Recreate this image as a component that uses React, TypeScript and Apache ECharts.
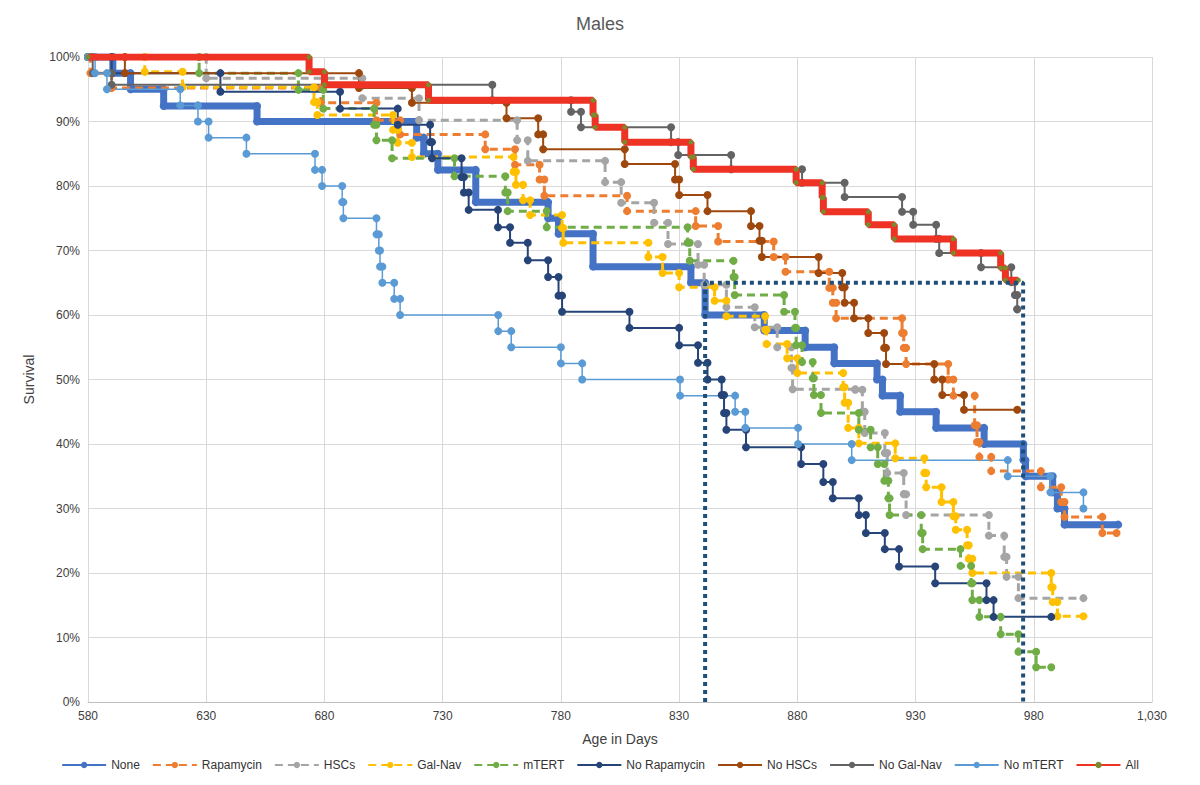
import { useEffect, useRef } from 'react';
import * as echarts from 'echarts';

// Kaplan-Meier steps: [day, survival %] — first is the start, then each drop, last is the end of follow-up
const none = [[580, 100], [590.5, 97.5], [598, 95], [612, 92.4], [651.5, 90], [719, 87.5], [722, 85], [728, 82.5], [744, 77.5], [774.6, 75], [779, 72.6], [793.6, 67.5], [835, 65], [841, 60], [866, 57.6], [883.3, 55], [895.6, 52.5], [913.7, 50], [916, 47.5], [923.5, 45], [938.7, 42.5], [959, 40], [975.6, 37.5], [976.5, 35], [988, 32.5], [990, 30], [993, 27.5], [1015.7, 27.5]];
const rapamycin = [[580, 100], [581, 97.5], [590, 95.2], [678.5, 92.9], [702, 90.2], [712, 88], [748, 85.7], [760.6, 83.3], [771, 81], [773, 78.5], [808, 76.1], [837, 73.8], [846.5, 71.4], [870, 69], [875, 66.7], [893.5, 64.2], [895, 61.9], [896.4, 59.5], [924.3, 57.2], [925, 54.9], [926, 52.4], [943.8, 50], [946, 47.5], [955, 42.9], [956, 40.3], [957, 38], [962, 35.8], [983, 33.3], [991.6, 31], [993, 28.7], [1009, 26.2], [1015, 26.2]];
const hscs = [[580, 100], [630, 96.7], [696, 93.6], [720, 90.2], [761.5, 87.1], [766, 83.9], [798.7, 80.6], [805.5, 77.4], [819.4, 74.3], [825.3, 71], [838, 67.8], [840.6, 64.7], [850, 61.2], [862, 58.1], [871.5, 55], [877.5, 51.8], [878, 48.5], [904.5, 48.4], [907.5, 45], [908.5, 41.7], [917, 38.6], [918, 35.5], [925, 32.2], [926, 29], [961, 25.8], [967.5, 22.5], [968.5, 19.4], [973.5, 16.1], [1001, 16.1]];
const galNav = [[580, 100], [604, 97.7], [620, 95.3], [675.6, 93], [677, 91], [709, 88.7], [711, 86.7], [717, 84.5], [760, 82.2], [761, 80.2], [764, 77.8], [767, 75.5], [780.5, 73.5], [781, 71.2], [817, 69], [823, 66.5], [830, 64.3], [845, 62.2], [850, 59.8], [866.4, 57.7], [867, 55.5], [875.7, 53.3], [880, 51], [899.4, 48.8], [900, 46.4], [901.5, 42.5], [906, 40.1], [921.4, 37.8], [933.7, 35.5], [934.5, 33.3], [941, 31], [946, 28.8], [947, 26.7], [951.8, 24.3], [952.5, 22.2], [954, 20], [987.4, 17.8], [988, 15.5], [990, 13.3], [1001, 13.3]];
const mtert = [[580, 100], [627, 97.5], [669, 94.9], [679.5, 92], [701, 89.5], [702, 87.1], [708.6, 84.3], [735, 81.5], [756.5, 79], [757.5, 76.1], [774, 73.6], [833.6, 71.2], [834.5, 68.4], [853, 65.9], [853.5, 63.1], [874.4, 60.5], [879, 58], [879.5, 55.3], [882, 52.7], [886.5, 50.2], [887, 47.6], [890, 44.8], [906, 42.2], [911, 39.5], [914, 36.9], [916.8, 34.3], [918.5, 31.6], [919, 29], [932.4, 26.2], [933, 23.7], [949, 21.1], [953.5, 18.4], [954, 15.8], [957, 13.2], [966, 10.5], [973.5, 7.8], [981, 5.4], [987.4, 5.4]];
const noRapamycin = [[580, 100], [590, 97.5], [636, 94.6], [686.6, 92], [711, 89.5], [724.7, 86.8], [725.5, 84.3], [738, 81.4], [739, 79], [741, 76.3], [753.4, 73.6], [758.5, 71.2], [766, 68.5], [774.6, 65.9], [779, 63], [780.5, 60.5], [809, 58], [830, 55.3], [838, 52.6], [842, 50], [848, 47.6], [849, 44.8], [850, 42.2], [858.3, 39.5], [881.6, 36.9], [891, 34.1], [895, 31.6], [906, 29], [909, 26.2], [917, 23.7], [923, 21], [938.3, 18.4], [960, 15.8], [963, 13.2], [987.4, 13.2]];
const noHscs = [[580, 100], [595.6, 97.5], [694.6, 95.2], [717, 92.9], [757, 90.5], [770.4, 88], [772.5, 85.7], [807, 83.4], [828.3, 81], [830, 78.6], [842, 76.1], [860.4, 73.8], [864, 71.5], [865, 69], [889, 66.5], [899, 64.3], [900, 61.9], [904, 59.5], [910, 57.2], [916.7, 54.9], [917.5, 52.4], [937.9, 50], [941.3, 47.6], [950.5, 45.3], [973, 45.3]];
const noGalNav = [[580, 100], [582, 97.5], [590, 95.7], [751, 93.3], [784.3, 91.5], [788.5, 89.1], [826.6, 86.8], [829.6, 84.8], [852, 82.6], [882, 80.5], [900, 78.3], [924.3, 76], [929, 74], [938.7, 71.8], [940, 69.6], [957.7, 67.4], [970.5, 65.1], [972, 63.1], [973, 60.9], [973, 60.9]];
const noMtert = [[580, 100], [583, 97.5], [588, 95], [619, 92.5], [626.5, 90], [631, 87.5], [647, 85], [676, 82.5], [679, 80], [687.5, 77.5], [688, 75], [702, 72.5], [703, 70], [703.5, 67.5], [704.5, 65], [709.5, 62.5], [712, 60], [753.5, 57.5], [759, 55], [780, 52.5], [789, 50], [830.4, 47.5], [853.7, 45], [858, 42.5], [880.3, 40], [903, 37.5], [969, 35], [987, 32.5], [1001, 30]];
const all = [[580, 100], [673.5, 97.7], [680, 95.7], [724, 93.3], [793.6, 91], [794.5, 89.1], [807, 86.8], [835, 84.5], [836, 82.6], [879.5, 80.5], [890.5, 78.2], [891, 76], [910, 74], [921, 71.8], [946, 69.6], [966, 67.3], [968, 65.4], [973.5, 65.4]];
const refBox = [[841, 0], [841, 65], [975.5, 65], [975.5, 0]];

// both ends of each drop get a marker, as in the original
function expand(pts: number[][]) {
  const out = [pts[0]];
  for (let i = 1; i < pts.length; i++) {
    const prev = out[out.length - 1][1];
    if (pts[i][1] !== prev) out.push([pts[i][0], prev]);
    out.push(pts[i]);
  }
  return out;
}

type Def = { name: string; data: number[][]; color: string; dash?: boolean; width?: number; marker?: string; size?: number };
const defs: Def[] = [
  { name: 'None', data: none, color: '#4472C4', width: 7, size: 8 },
  { name: 'Rapamycin', data: rapamycin, color: '#ED7D31', dash: true },
  { name: 'HSCs', data: hscs, color: '#A5A5A5', dash: true },
  { name: 'Gal-Nav', data: galNav, color: '#FFC000', dash: true },
  { name: 'mTERT', data: mtert, color: '#70AD47', dash: true },
  { name: 'No Rapamycin', data: noRapamycin, color: '#264478' },
  { name: 'No HSCs', data: noHscs, color: '#9E480E' },
  { name: 'No Gal-Nav', data: noGalNav, color: '#636363' },
  { name: 'No mTERT', data: noMtert, color: '#5B9BD5', width: 1.5 },
  { name: 'All', data: all, color: '#EE3224', width: 7, marker: '#7A8B2E', size: 5 },
];

export default function App() {
  const chartRef = useRef<HTMLDivElement>(null);

  useEffect(() => {
    document.body.style.margin = '0';
    if (!chartRef.current) return;
    const chart = echarts.init(chartRef.current, null, { renderer: 'svg' });

    const series: any[] = defs.map(d => ({
      name: d.name,
      type: 'line',
      step: 'end',
      data: expand(d.data),
      symbol: 'circle',
      symbolSize: d.size ?? 8,
      lineStyle: { color: d.color, width: d.width ?? (d.dash ? 3 : 2), type: d.dash ? [8, 5] : 'solid' },
      itemStyle: { color: d.marker ?? d.color },
      z: d.name === 'All' ? 5 : d.name === 'None' ? 1 : 3,
    }));
    series.push({
      name: 'ref',
      type: 'line',
      data: refBox,
      symbol: 'none',
      lineStyle: { color: '#1F4E79', width: 4, type: [4, 4] },
      z: 6,
    });

    chart.setOption({
      animation: false,
      textStyle: { fontFamily: 'Liberation Sans, Arial, sans-serif' },
      title: { text: 'Males', left: 'center', top: 10, textStyle: { fontSize: 18, fontWeight: 'normal', color: '#595959' } },
      grid: { left: 88, right: 48, top: 57, bottom: 83 },
      legend: {
        data: defs.map(d => d.name),
        top: 754,
        left: 'center',
        itemWidth: 44,
        itemHeight: 8,
        itemGap: 12,
        textStyle: { fontSize: 12, color: '#333' },
      },
      xAxis: {
        type: 'value', min: 580, max: 1030, interval: 50,
        name: 'Age in Days', nameLocation: 'middle', nameGap: 30,
        nameTextStyle: { fontSize: 14, color: '#404040' },
        axisLine: { lineStyle: { color: '#bfbfbf' } },
        axisTick: { show: false },
        axisLabel: { color: '#404040', fontSize: 12 },
        splitLine: { lineStyle: { color: '#d9d9d9' } },
      },
      yAxis: {
        type: 'value', min: 0, max: 100, interval: 10,
        name: 'Survival', nameLocation: 'middle', nameGap: 52,
        nameTextStyle: { fontSize: 14, color: '#404040' },
        axisLine: { show: false },
        axisTick: { show: false },
        axisLabel: { formatter: '{value}%', color: '#404040', fontSize: 12 },
        splitLine: { lineStyle: { color: '#d9d9d9' } },
      },
      series,
    });

    return () => chart.dispose();
  }, []);

  return <div ref={chartRef} style={{ width: 1200, height: 785 }} />;
}
